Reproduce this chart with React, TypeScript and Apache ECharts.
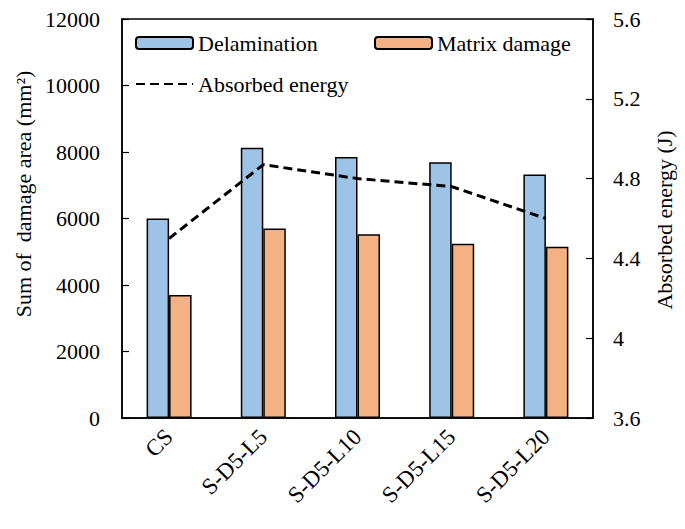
import React, { useEffect, useRef } from "react";
import * as echarts from "echarts";

const categories = ["CS", "S-D5-L5", "S-D5-L10", "S-D5-L15", "S-D5-L20"];
const delamination = [6000, 8130, 7850, 7690, 7320];
const matrixDamage = [3700, 5700, 5530, 5240, 5150];
const absorbedEnergy = [4.5, 4.87, 4.8, 4.76, 4.6];
const leftTicks = { min: 0, max: 12000, interval: 2000 };
const rightTicks = { min: 3.6, max: 5.6, interval: 0.4 };

const FONT = "'Liberation Serif', 'Times New Roman', serif";
const FS = 22;

export default function App() {
  const ref = useRef<HTMLDivElement>(null);
  useEffect(() => {
    if (!ref.current) return;
    const chart = echarts.init(ref.current, undefined, { renderer: "svg" });
    const legendText = { fontFamily: FONT, fontSize: FS, color: "#000" };
    chart.setOption({
      animation: false,
      backgroundColor: "#fff",
      textStyle: { fontFamily: FONT, color: "#000" },
      grid: {
        left: 122,
        right: 92,
        top: 19,
        bottom: 111,
        show: true,
        borderColor: "#000",
        borderWidth: 1.5,
        backgroundColor: "transparent",
      },
      legend: [
        {
          data: ["Delamination"],
          left: 135,
          top: 32,
          padding: 0,
          itemWidth: 57,
          itemHeight: 12,
          textStyle: { ...legendText },
        },
        {
          data: ["Matrix damage"],
          left: 374,
          top: 32,
          padding: 0,
          itemWidth: 57,
          itemHeight: 12,
          textStyle: { ...legendText },
        },
        {
          data: ["Absorbed energy"],
          left: 135,
          top: 73,
          padding: 0,
          itemWidth: 57,
          itemHeight: 12,
          itemStyle: { opacity: 0 },
          textStyle: { ...legendText },
        },
      ],
      xAxis: {
        type: "category",
        data: categories,
        boundaryGap: true,
        axisLine: { lineStyle: { color: "#000", width: 1.5 } },
        axisTick: { show: false },
        axisLabel: {
          rotate: 45,
          margin: 15,
          fontFamily: FONT,
          fontSize: 23,
          color: "#000",
          interval: 0,
        },
      },
      yAxis: [
        {
          type: "value",
          min: leftTicks.min,
          max: leftTicks.max,
          interval: leftTicks.interval,
          axisLine: { show: true, lineStyle: { color: "#000", width: 1.5 } },
          axisTick: { show: true, inside: true, length: 7, lineStyle: { color: "#000", width: 1.2 } },
          splitLine: { show: false },
          axisLabel: {
            margin: 22,
            fontFamily: FONT,
            fontSize: FS,
            color: "#000",
            formatter: (v: number) => String(v),
          },
        },
        {
          type: "value",
          min: rightTicks.min,
          max: rightTicks.max,
          interval: rightTicks.interval,
          position: "right",
          axisLine: { show: true, lineStyle: { color: "#000", width: 1.5 } },
          axisTick: { show: true, inside: true, length: 7, lineStyle: { color: "#000", width: 1.2 } },
          splitLine: { show: false },
          axisLabel: {
            margin: 20,
            fontFamily: FONT,
            fontSize: FS,
            color: "#000",
            formatter: (v: number) => String(+v.toFixed(1)),
          },
        },
      ],
      graphic: [
        {
          type: "text",
          x: 23,
          y: 194,
          rotation: Math.PI / 2,
          style: {
            text: "Sum of  damage area (mm²)",
            fontFamily: FONT,
            fontSize: FS,
            fill: "#000",
            align: "center",
            verticalAlign: "middle",
          },
        },
        {
          type: "text",
          x: 664,
          y: 220,
          rotation: Math.PI / 2,
          style: {
            text: "Absorbed energy (J)",
            fontFamily: FONT,
            fontSize: FS,
            fill: "#000",
            align: "center",
            verticalAlign: "middle",
          },
        },
      ],
      series: [
        {
          name: "Delamination",
          type: "bar",
          data: delamination,
          barWidth: 22.5,
          barGap: "0%",
          itemStyle: { color: "#9DC3E6", borderColor: "#000", borderWidth: 1.5 },
        },
        {
          name: "Matrix damage",
          type: "bar",
          data: matrixDamage,
          barWidth: 22.5,
          barGap: "0%",
          itemStyle: { color: "#F4B183", borderColor: "#000", borderWidth: 1.5 },
        },
        {
          name: "Absorbed energy",
          type: "line",
          yAxisIndex: 1,
          data: absorbedEnergy,
          symbol: "none",
          lineStyle: { color: "#000", width: 3, type: [9, 5] },
          itemStyle: { color: "#000" },
          z: 5,
        },
      ],
    });
    return () => chart.dispose();
  }, []);
  return <div ref={ref} style={{ width: 685, height: 529, margin: -8 }} />;
}
